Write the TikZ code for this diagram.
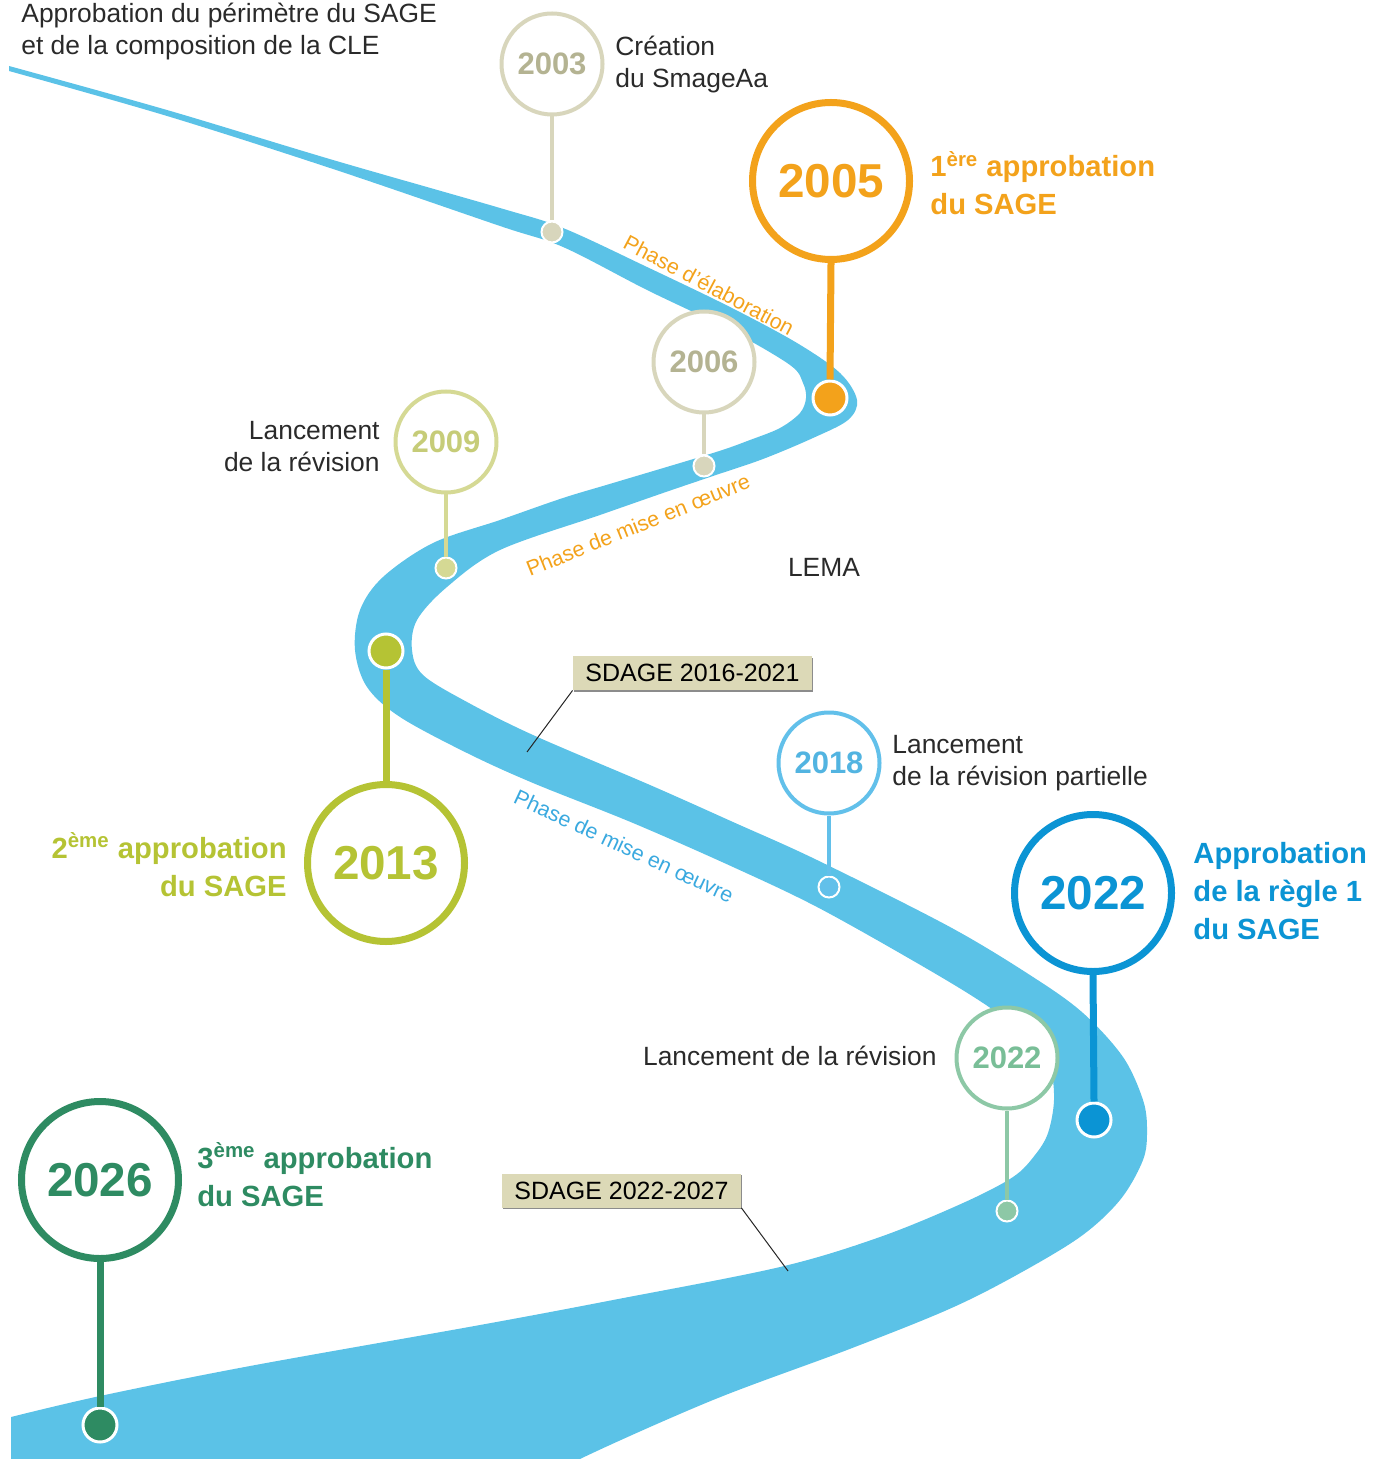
\documentclass[tikz,border=0pt]{standalone}
\usepackage{fontspec}
\setmainfont{Liberation Sans}
\usetikzlibrary{shadows}

\definecolor{cRiver}{HTML}{5BC2E7}
\definecolor{cTxt}{HTML}{2A2A2A}
\definecolor{cOrange}{HTML}{F3A21B}
\definecolor{cBeige}{HTML}{D8D6BC}
\definecolor{cBeigeTxt}{HTML}{B4B392}
\definecolor{cLime}{HTML}{D5D994}
\definecolor{cLimeTxt}{HTML}{C6CC78}
\definecolor{cGreen}{HTML}{B5C334}
\definecolor{cSky}{HTML}{62C0EA}
\definecolor{cSkyTxt}{HTML}{52B4E1}
\definecolor{cBlue}{HTML}{0B94D4}
\definecolor{cMint}{HTML}{8DC8A6}
\definecolor{cMintTxt}{HTML}{79BE97}
\definecolor{cForest}{HTML}{2E8B62}
\definecolor{cPhaseBlue}{HTML}{3AA9DF}
\definecolor{cBox}{HTML}{DCD9B7}

\tikzset{
  yearbig/.style={circle,draw=#1,line width=3.5pt,fill=white,text=#1,minimum size=78.5pt,inner sep=0pt,font=\fontsize{23.8}{24}\selectfont\bfseries},
  yearsmall/.style 2 args={circle,draw=#1,line width=2pt,fill=white,text=#2,minimum size=50.5pt,inner sep=0pt,font=\fontsize{15.5}{16}\selectfont\bfseries},
  dotbig/.style={circle,fill=#1,draw=white,line width=1.5pt,minimum size=17pt,inner sep=0pt},
  dotsmall/.style={circle,fill=#1,draw=white,line width=1pt,minimum size=10.5pt,inner sep=0pt},
  stembig/.style={draw=#1,line width=3.5pt},
  stemsmall/.style={draw=#1,line width=2pt},
  lbl/.style={inner sep=0pt,text=cTxt,font=\fontsize{13.2}{16}\selectfont},
  lblbold/.style={inner sep=0pt,text=#1,font=\fontsize{14.6}{19}\selectfont\bfseries},
  phase/.style={inner sep=0pt,text=#1,font=\fontsize{10.7}{12}\selectfont},
  sdage/.style={fill=cBox,inner sep=0pt,minimum width=119.5pt,minimum height=17pt,text=black,
    font=\fontsize{12.5}{13}\selectfont,drop shadow={shadow xshift=0.4pt,shadow yshift=-0.8pt,fill=black!45,opacity=1}},
  leader/.style={draw=black!85,line width=0.5pt}
}

\begin{document}
\begin{tikzpicture}[x=0.5pt,y=-0.5pt]
\useasboundingbox (0,0) rectangle (1380,1459);

% la rivière
\fill[cRiver] plot[smooth,tension=.55] coordinates {
  (9,66) (167,110) (333,160) (500,208) (563,228) (647,267) (730,307) (797,343)
  (840,373) (857,400) (848,420) (813,438) (763,459) (713,476) (663,493) (600,515)
  (500,550) (447,587) (417,620) (412,650) (423,675) (467,702) (533,735) (650,785)
  (733,822) (817,860) (950,927) (1033,977) (1083,1013) (1123,1057) (1143,1100)
  (1147,1130) (1143,1160) (1120,1200) (1080,1237) (1013,1277) (947,1310) (847,1350)
  (713,1400) (580,1459) (560,1475)}
  -- (11,1475)
  -- plot[smooth,tension=.55] coordinates {
  (11,1417) (100,1396) (250,1366) (480,1325) (613,1300) (780,1267) (880,1237)
  (963,1203) (1013,1177) (1035,1155) (1048,1133) (1054,1100) (1050,1067) (1033,1040)
  (983,1003) (917,963) (817,907) (733,867) (633,823) (533,783) (467,753) (400,717)
  (367,687) (355,650) (360,610) (383,577) (433,543) (500,520) (563,498) (613,483)
  (713,453) (750,440) (780,428) (800,413) (806,398) (803,383) (790,365) (730,330)
  (647,290) (563,247) (500,226) (333,169) (167,116) (9,71)}
  -- cycle;

\node[phase=cOrange,rotate=-28] at (709,285) {Phase d’élaboration};
\node[phase=cOrange,rotate=22] at (638,525) {Phase de mise en œuvre};
\node[phase=cPhaseBlue,rotate=-25] at (624,846) {Phase de mise en œuvre};

\node[lbl,align=left,anchor=base west] at (21,55) {Approbation du périmètre du SAGE\\et de la composition de la CLE};
\node[lbl] at (824,567) {LEMA};

%% les SDAGE
\coordinate (cLeadAPt) at (527,752);
\coordinate (cLeadBPt) at (788,1271);
\node[sdage] (nSdageA) at (692.5,673) {SDAGE 2016-2021};
\node[sdage] (nSdageB) at (621.5,1190.5) {SDAGE 2022-2027};
\draw[leader] (nSdageA.south west) -- (cLeadAPt);
\draw[leader] (nSdageB.south east) -- (cLeadBPt);

%% 2003
\node[yearsmall={cBeige}{cBeigeTxt}] (nY2003) at (552,64) {2003};
\node[dotsmall=cBeige] (nD2003) at (552,232) {};
\draw[stemsmall=cBeige] (nY2003.south) -- (nD2003.north);
\node[lbl,align=left,anchor=base west] at (615,88) {Création\\du SmageAa};

%% 2005
\node[yearbig=cOrange] (nY2005) at (831,181) {2005};
\node[dotbig=cOrange] (nD2005) at (830,398) {};
\draw[stembig=cOrange] (nY2005.south) -- (nD2005.north);
\node[lblbold=cOrange,align=left,anchor=base west] at (930,215) {1\textsuperscript{ère} approbation\\du SAGE};

%% 2006
\node[yearsmall={cBeige}{cBeigeTxt}] (nY2006) at (704,362) {2006};
\node[dotsmall=cBeige] (nD2006) at (704,466) {};
\draw[stemsmall=cBeige] (nY2006.south) -- (nD2006.north);

%% 2009
\node[yearsmall={cLime}{cLimeTxt}] (nY2009) at (446,442) {2009};
\node[dotsmall=cLime] (nD2009) at (446,568) {};
\draw[stemsmall=cLime] (nY2009.south) -- (nD2009.north);
\node[lbl,align=right,anchor=base east] at (380,472) {Lancement\\de la révision};

%% 2013
\node[yearbig=cGreen] (nY2013) at (386,863) {2013};
\node[dotbig=cGreen] (nD2013) at (386,651) {};
\draw[stembig=cGreen] (nY2013.north) -- (nD2013.south);
\node[lblbold=cGreen,align=right,anchor=base east] at (287,896) {2\textsuperscript{ème} approbation\\du SAGE};

%% 2018
\node[yearsmall={cSky}{cSkyTxt}] (nY2018) at (829,763) {2018};
\node[dotsmall=cSky] (nD2018) at (829,887) {};
\draw[stemsmall=cSky] (nY2018.south) -- (nD2018.north);
\node[lbl,align=left,anchor=base west] at (892,785) {Lancement\\de la révision partielle};

%% 2022
\node[yearbig=cBlue] (nY2022) at (1093,893) {2022};
\node[dotbig=cBlue] (nD2022) at (1094,1120) {};
\draw[stembig=cBlue] (nY2022.south) -- (nD2022.north);
\node[lblbold=cBlue,align=left,anchor=base west] at (1193,939) {Approbation\\de la règle 1\\du SAGE};

\node[yearsmall={cMint}{cMintTxt}] (nY2022b) at (1007,1058) {2022};
\node[dotsmall=cMint] (nD2022b) at (1007,1211) {};
\draw[stemsmall=cMint] (nY2022b.south) -- (nD2022b.north);
\node[lbl,anchor=base east] at (937,1065) {Lancement de la révision};

%% 2026
\node[yearbig=cForest] (nY2026) at (100,1180) {2026};
\node[dotbig=cForest] (nD2026) at (100,1425) {};
\draw[stembig=cForest] (nY2026.south) -- (nD2026.north);
\node[lblbold=cForest,align=left,anchor=base west] at (197,1206) {3\textsuperscript{ème} approbation\\du SAGE};

\end{tikzpicture}
\end{document}
